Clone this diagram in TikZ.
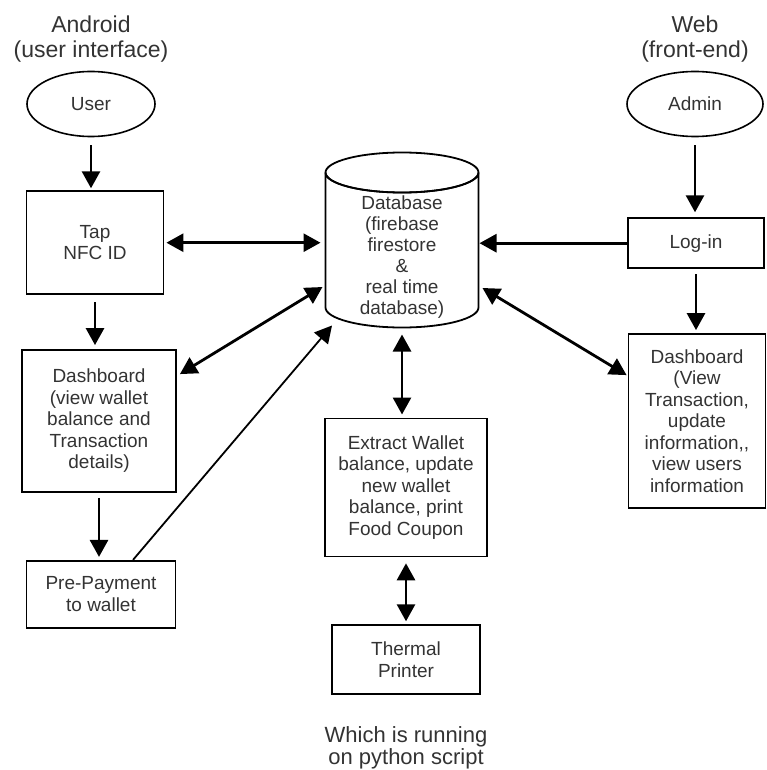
\documentclass[tikz,border=0pt]{standalone}
\usepackage{fontspec}
\setmainfont{Liberation Sans}
\usepackage{tikz}
\usetikzlibrary{shapes.geometric, arrows.meta, positioning}
\definecolor{cInk}{HTML}{333333}
\tikzset{
  proc/.style={
    rectangle, draw=black, line width=1.8pt, align=center, text=cInk,
    inner sep=2pt, font=\fontsize{19}{21.5}\selectfont
  },
  actor/.style={
    ellipse, draw=black, line width=1.6pt, text=cInk,
    minimum height=65pt, font=\fontsize{19}{21.5}\selectfont
  },
  store/.style={
    rectangle, inner sep=0pt, outer sep=0pt
  },
  storeline/.style={draw=black, line width=1.8pt},
  storetext/.style={
    align=center, text=cInk, inner sep=0pt,
    font=\fontsize{19}{21}\selectfont
  },
  title/.style={
    align=center, inner sep=0pt, text=cInk,
    font=\fontsize{23}{25}\selectfont
  },
  arrow/.style={-{Triangle[length=17pt, width=18pt]}, line width=2.8pt},
  darrow/.style={{Triangle[length=17pt, width=18pt]}-{Triangle[length=17pt, width=18pt]},
    line width=2.8pt},
  tarrow/.style={-{Triangle[length=17pt, width=18pt]}, line width=1.8pt},
}

\begin{document}
\begin{tikzpicture}[x=1pt, y=1pt]

  \useasboundingbox (0,0) rectangle (766,-770);

  % Android side
  \node[actor, minimum width=128pt] (user) at (91,-104) {User};
  \node[title, above=8.5pt of user] (android) {Android\\(user interface)};
  \node[proc, minimum width=137pt, minimum height=103pt,
        below=53pt of user, xshift=4pt] (tap) {Tap\\NFC ID};
  \node[proc, minimum width=154pt, minimum height=142pt,
        below=54pt of tap, xshift=4pt] (dashL) {
    Dashboard\\
    (view wallet\\
    balance and\\
    Transaction\\
    details)
  };
  \node[proc, minimum width=149pt, minimum height=67pt,
        below=67pt of dashL, xshift=2pt] (pre) {Pre-Payment\\to wallet};

  % Database (cylinder)
  \node[store, minimum width=153pt, minimum height=175pt] (db) at (402,-240) {};
  \draw[storeline] ([yshift=-20pt]db.north west) -- ([yshift=20pt]db.south west)
    arc[start angle=180, end angle=360, x radius=76.5pt, y radius=20pt]
    -- ([yshift=-20pt]db.north east)
    arc[start angle=0, end angle=360, x radius=76.5pt, y radius=20pt];
  \draw[storeline] ([yshift=-20pt]db.north west)
    arc[start angle=180, end angle=360, x radius=76.5pt, y radius=20pt];
  \node[storetext] (dbtext) at ([yshift=-17pt]db.center) {
    Database\\
    (firebase\\
    firestore\\
    \&\\
    real time\\
    database)
  };

  % Web side
  \node[actor, minimum width=136pt] (admin) at (695,-104) {Admin};
  \node[title, above=8.5pt of admin] (web) {Web\\(front-end)};
  \node[proc, minimum width=136pt, minimum height=50pt,
        below=80pt of admin, xshift=1pt] (login) {Log-in};
  \node[proc, minimum width=137pt, minimum height=174pt,
        below=64pt of login, xshift=1pt] (dashR) {
    Dashboard\\
    (View\\
    Transaction,\\
    update\\
    information,{},\\
    view users\\
    information
  };

  % Python side
  \node[proc, minimum width=162pt, minimum height=138pt,
        below=90pt of db, xshift=4pt] (extract) {
    Extract Wallet\\
    balance, update\\
    new wallet\\
    balance, print\\
    Food Coupon
  };
  \node[proc, minimum width=148pt, minimum height=69pt,
        below=67pt of extract] (thermal) {Thermal\\Printer};
  \node[title, font=\fontsize{22}{22}\selectfont,
        below=31pt of thermal] (python) {Which is running\\on python script};

  % Arrows
  \draw[arrow, shorten <=8pt, shorten >=2pt] (user.south) -- (user.south |- tap.north);
  \draw[arrow, shorten <=7pt, shorten >=4pt] (tap.south) -- (tap.south |- dashL.north);
  \draw[arrow, shorten <=5pt, shorten >=3pt] (dashL.south) -- (dashL.south |- pre.north);
  \draw[darrow, shorten <=2pt, shorten >=5pt] (tap.east) -- (tap.east -| db.west);
  \draw[darrow] ([shift={(3pt,-25pt)}]dashL.north east) -- ([shift={(-3pt,-47pt)}]db.west);
  \draw[tarrow] ([xshift=32pt]pre.north) -- ([shift={(-70pt,2pt)}]db.south);
  \draw[arrow, shorten >=1pt] (login.west) -- (login.west -| db.east);
  \draw[arrow, shorten <=8pt, shorten >=5pt] (admin.south) -- (admin.south |- login.north);
  \draw[arrow, shorten <=5pt, shorten >=3pt] (login.south) -- (login.south |- dashR.north);
  \draw[darrow] ([shift={(4pt,-48pt)}]db.east) -- ([shift={(-1pt,-42pt)}]dashR.north west);
  \draw[darrow, shorten <=7pt, shorten >=3pt] (db.south) -- (db.south |- extract.north);
  \draw[darrow, shorten <=6pt, shorten >=3pt] (extract.south) -- (extract.south |- thermal.north);

\end{tikzpicture}
\end{document}
